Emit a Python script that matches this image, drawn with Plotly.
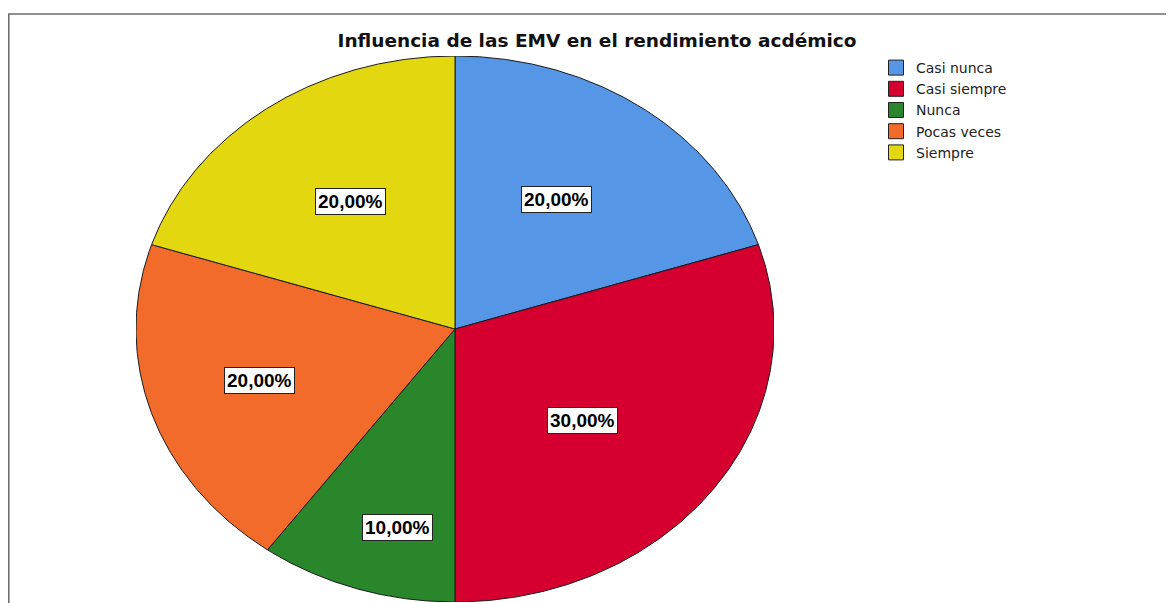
import numpy as np
import plotly.graph_objects as go

categories = ["Casi nunca", "Casi siempre", "Nunca", "Pocas veces", "Siempre"]
percents = [20.0, 30.0, 10.0, 20.0, 20.0]
colors = ["#5596E6", "#D5002F", "#2A862B", "#F26B2B", "#E3D70F"]
title_text = "Influencia de las EMV en el rendimiento acdémico"

# label placement (fraction of radius) per slice
label_r = [0.57, 0.52, 0.75, 0.64, 0.57]
label_shift = [-2, 4, -4, 1, 1]  # degrees

# page has an 8px body margin; figure placed at (8, 8)
OFF = 8
W, H = 1174 - OFF, 603 - OFF
cx_px, rx_px = 455 - OFF, 319
top_px, bot_px = 56 - OFF, 602 - OFF
ml = cx_px - rx_px
mr = W - (cx_px + rx_px)
mt = top_px
mb = H - bot_px
pw = W - ml - mr
ph = H - mt - mb

fig = go.Figure()
total = sum(percents)
start = 0.0  # degrees clockwise from top
annotations = []
for cat, val, col, lr, sh in zip(categories, percents, colors, label_r, label_shift):
    span = 360.0 * val / total
    angs = np.radians(np.linspace(start, start + span, 200))
    xs = np.concatenate([[0], np.sin(angs), [0]])
    ys = np.concatenate([[0], np.cos(angs), [0]])
    fig.add_trace(go.Scatter(
        x=xs, y=ys, mode="lines", fill="toself", fillcolor=col,
        line=dict(color="#1a1a1a", width=1), showlegend=False,
        hoverinfo="text", text=f"{cat}: {val:.2f}%".replace(".", ","),
    ))
    mid = np.radians(start + span / 2 + sh)
    annotations.append(dict(
        x=lr * np.sin(mid), y=lr * np.cos(mid), xref="x", yref="y",
        text="<b>" + f"{val:.2f}".replace(".", ",") + "%</b>",
        showarrow=False, bgcolor="white", bordercolor="#222", borderwidth=1,
        borderpad=2, font=dict(family="Liberation Sans", size=19, color="black"),
    ))
    start += span

for cat, col in zip(categories, colors):
    fig.add_trace(go.Scatter(
        x=[None], y=[None], mode="markers", name=cat,
        marker=dict(symbol="square", size=15, color=col, line=dict(color="#222", width=1)),
    ))

fig.add_shape(type="rect", xref="paper", yref="paper",
              x0=(0.8 - ml) / pw, x1=(W + 20 - ml) / pw,
              y0=-0.2, y1=(bot_px - (14 - OFF)) / ph,
              line=dict(color="#6e6e6e", width=1.6), fillcolor="rgba(0,0,0,0)", layer="below")

fig.update_layout(
    width=W, height=H,
    margin=dict(l=ml, r=mr, t=mt, b=mb),
    paper_bgcolor="white", plot_bgcolor="white",
    xaxis=dict(range=[-1, 1], visible=False, fixedrange=True),
    yaxis=dict(range=[-1, 1], visible=False, fixedrange=True),
    title=dict(text="<b>" + title_text + "</b>", x=(597 - OFF) / W, xanchor="center",
               y=1 - (41 - OFF) / H, yanchor="middle",
               font=dict(family="DejaVu Sans", size=18.5, color="#111")),
    annotations=annotations,
    legend=dict(x=(876 - OFF - ml) / pw, y=(bot_px - (52 - OFF)) / ph, xanchor="left", yanchor="top",
                font=dict(family="DejaVu Sans", size=14, color="#222"),
                tracegroupgap=0, bgcolor="rgba(0,0,0,0)"),
    showlegend=True,
)

fig.write_html("out.html")
